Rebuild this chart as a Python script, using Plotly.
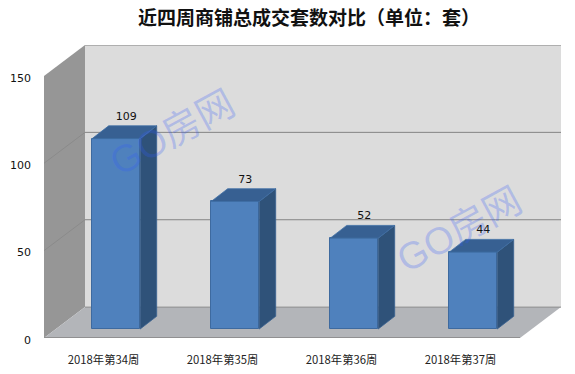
import plotly.graph_objects as go

categories = ["2018年第34周", "2018年第35周", "2018年第36周", "2018年第37周"]
values = [109, 73, 52, 44]
y_ticks = [0, 50, 100, 150]
title = "近四周商铺总成交套数对比（单位：套）"

# scale helpers: 1 category = 119 px, 1 unit = 263/150 px
PX_X = 119.0
PX_Y = 263.0 / 150
dx = 41 / PX_X          # full floor depth in x units
dy = 31 / PX_Y          # full floor depth in y units
X0, X1 = -0.5, 3.5
YMAX = 150

# bar placement on the floor
bw = 48 / PX_X
sx = 12.7 / PX_X        # shift of bar front from front plane
sy = 9 / PX_Y
ddx = 16.5 / PX_X       # bar depth
ddy = 12.8 / PX_Y


def poly(pts):
    return "M" + " L".join(f"{a},{b}" for a, b in pts) + " Z"


shapes = [
    dict(type="path", layer="below", path=poly([(X0, 0), (X0 + dx, dy), (X0 + dx, YMAX + dy), (X0, YMAX)]),
         fillcolor="#969696", line=dict(width=0)),
    dict(type="path", layer="below", path=poly([(X0 + dx, dy), (X1 + dx, dy), (X1 + dx, YMAX + dy), (X0 + dx, YMAX + dy)]),
         fillcolor="#dcdcdc", line=dict(width=0)),
    dict(type="path", layer="below", path=poly([(X0, 0), (X1, 0), (X1 + dx, dy), (X0 + dx, dy)]),
         fillcolor="#b3b5b9", line=dict(width=0)),
]
for t in y_ticks:
    color = "#a0a0a0" if t == 150 else "#858585"
    if t == 0:
        continue
    shapes.append(dict(type="line", layer="below", x0=X0 + dx, x1=X1 + dx, y0=t + dy, y1=t + dy,
                       line=dict(color=color, width=1.5 if t == 150 else 1)))
    if t != 150:
        shapes.append(dict(type="line", layer="below", x0=X0, x1=X0 + dx, y0=t, y1=t + dy,
                           line=dict(color="#858585", width=0.7)))
shapes.append(dict(type="line", layer="below", x0=X0 + dx, x1=X1 + dx, y0=dy, y1=dy, line=dict(color="#8f8f8f", width=1)))
shapes.append(dict(type="line", layer="below", x0=X0, x1=X1, y0=0, y1=0, line=dict(color="#858585", width=1.3)))

fig = go.Figure()

xs = [i + sx for i in range(len(values))]
fig.add_trace(go.Bar(x=xs, y=values, base=[sy] * len(values), width=bw,
                     marker=dict(color="#4f81bd", line=dict(color="#3e6a9f", width=1)),
                     hoverinfo="skip", showlegend=False))

for x, v in zip(xs, values):
    l, r = x - bw / 2, x + bw / 2
    b, t = sy, sy + v
    fig.add_trace(go.Scatter(x=[r, r + ddx, r + ddx, r, r], y=[b, b + ddy, t + ddy, t, b], mode="lines",
                             fill="toself", fillcolor="#2f5279", line=dict(color="#3a6290", width=0.8),
                             hoverinfo="skip", showlegend=False))
    fig.add_trace(go.Scatter(x=[l, r, r + ddx, l + ddx, l], y=[t, t, t + ddy, t + ddy, t], mode="lines",
                             fill="toself", fillcolor="#376092", line=dict(color="#3f6ea5", width=0.8),
                             hoverinfo="skip", showlegend=False))

fig.add_trace(go.Scatter(x=[x + 10 / PX_X for x in xs],
                         y=[sy + v + ddy + 9 / PX_Y for v in values],
                         mode="text", text=[str(v) for v in values], textposition="middle center",
                         textfont=dict(family="DejaVu Sans", size=11, color="#111111"),
                         hoverinfo="skip", showlegend=False))

wm = dict(text="GO房网", showarrow=False, textangle=-28.5, xref="paper", yref="paper",
          xanchor="center", yanchor="middle",
          font=dict(family="Liberation Sans, Noto Sans CJK SC", size=38, color="rgba(50,90,250,0.26)"))

fig.update_layout(
    width=575, height=374, autosize=False,
    margin=dict(l=44, r=14, t=44.7, b=36),
    paper_bgcolor="white", plot_bgcolor="white",
    title=dict(text=f"<b>{title}</b>", x=309 / 575, xanchor="center", xref="container", y=0.95, yanchor="middle",
               font=dict(family="Noto Sans CJK SC", size=19, color="#111111"), automargin=False),
    xaxis=dict(range=[X0, X1 + dx], tickmode="array", tickvals=list(range(4)), ticktext=categories,
               showgrid=False, zeroline=False, showline=False, ticks="", automargin=False,
               tickfont=dict(family="Noto Sans CJK SC", size=11.3, color="#222222"), ticklabelstandoff=14),
    yaxis=dict(range=[0, YMAX + dy], tickmode="array", tickvals=y_ticks, ticktext=[str(t) for t in y_ticks],
               showgrid=False, zeroline=False, showline=False, ticks="", automargin=False,
               tickfont=dict(family="DejaVu Sans", size=11, color="#111111"), ticklabelstandoff=12,
               ticklabelshift=2),
    shapes=shapes,
    annotations=[dict(wm, x=(172 - 44) / 517, y=(338 - 133) / 293.3),
                 dict(wm, x=(459 - 44) / 517, y=(338 - 230) / 293.3)],
    bargap=0,
)

fig.write_html("out.html", config=dict(displayModeBar=False),
               post_script="document.body.style.margin='0';document.body.style.overflow='hidden';")
